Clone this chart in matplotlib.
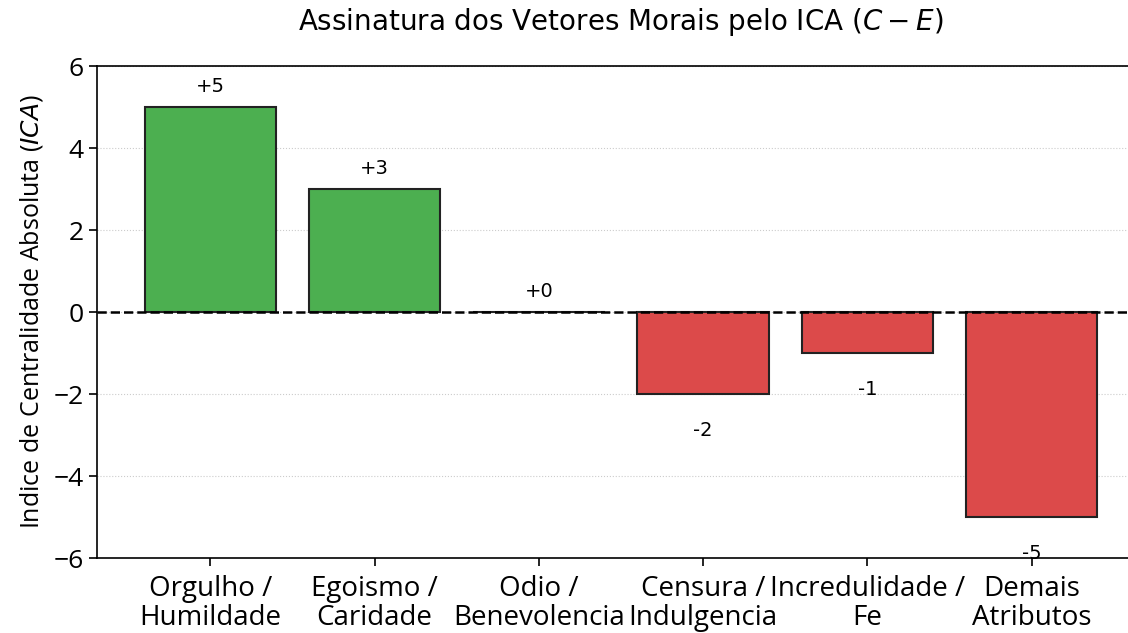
import numpy as np
import matplotlib
matplotlib.use("Agg")
import matplotlib.pyplot as plt

# --- data ---------------------------------------------------------------
categories = [
    "Orgulho /\nHumildade",
    "Egoismo /\nCaridade",
    "Odio /\nBenevolencia",
    "Censura /\nIndulgencia",
    "Incredulidade /\nFe",
    "Demais\nAtributos",
]
ica_values = [5, 3, 0, -2, -1, -5]
y_ticks = [-6, -4, -2, 0, 2, 4, 6]

GREEN = "#4caf50"
RED = "#dc4a4a"
TICK_FONT = "Open Sans"

fig = plt.figure(figsize=(11.28, 6.33), dpi=100)
ax = fig.add_axes([97 / 1128, 1 - 558 / 633, (1145 - 97) / 1128, (558 - 66) / 633])

x = np.arange(len(categories))
colors = [GREEN if v >= 0 else RED for v in ica_values]
ax.bar(x, ica_values, width=0.8, color=colors, edgecolor="#222222", linewidth=1.5, zorder=2)

ax.axhline(0, color="black", linestyle="--", linewidth=1.8, zorder=3)
ax.yaxis.grid(True, linestyle=":", color="#cccccc", linewidth=0.8, zorder=0)
ax.set_axisbelow(True)

for xi, v in zip(x, ica_values):
    off = 0.5 if v >= 0 else -0.9
    ax.text(xi, v + off, f"{v:+d}", ha="center", va="center", fontsize=14,
            family="DejaVu Sans", zorder=4)

ax.set_xlim(-0.69, 5.69)
ax.set_ylim(-6, 6)
ax.set_yticks(y_ticks)
ax.set_xticks(x)
ax.set_xticklabels(categories, fontsize=20, family=TICK_FONT, linespacing=1.05)
for lbl in ax.get_yticklabels():
    lbl.set_fontsize(19)
    lbl.set_family(TICK_FONT)
ax.tick_params(axis="both", length=6, width=1.2)
ax.tick_params(axis="x", pad=6)
for s in ax.spines.values():
    s.set_linewidth(1.2)

ax.set_ylabel(r"Indice de Centralidade Absoluta ($ICA$)", fontsize=18, family=TICK_FONT, labelpad=6)
ax.set_title(r"Assinatura dos Vetores Morais pelo ICA ($C - E$)", fontsize=20, pad=26)

fig.savefig("out.png", dpi=100)
